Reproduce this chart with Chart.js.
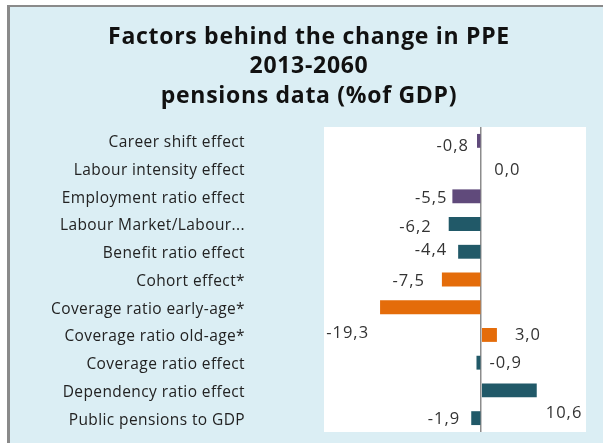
<!DOCTYPE html>
<html>
<head>
<meta charset="utf-8">
<script src="https://cdn.jsdelivr.net/npm/chart.js@4"></script>
<style>
  html, body { margin: 0; padding: 0; background: #fff; }
  #wrap { width: 603px; height: 443px; }
</style>
</head>
<body>
<div id="wrap"><canvas id="ppeChart" width="603" height="443"></canvas></div>
<script>
/* ------------------------------
   DATA
--------------------------------*/

const titleLines = ["Factors behind the change in PPE", "2013-2060", "pensions data (%of GDP)"];

const categories = [
    "Career shift effect",
    "Labour intensity effect",
    "Employment ratio effect",
    "Labour Market/Labour...",
    "Benefit ratio effect",
    "Cohort effect*",
    "Coverage ratio early-age*",
    "Coverage ratio old-age*",
    "Coverage ratio effect",
    "Dependency ratio effect",
    "Public pensions to GDP"
];

const values = [-0.8, 0.0, -5.5, -6.2, -4.4, -7.5, -19.3, 3.0, -0.9, 10.6, -1.9];

const valueLabels = ["-0,8", "0,0", "-5,5", "-6,2", "-4,4", "-7,5", "-19,3", "3,0", "-0,9", "10,6", "-1,9"];

const xMin = -30;
const xMax = 20;

/* ------------------------------
   STYLE
--------------------------------*/

const FONT = "'Open Sans', sans-serif";
const PURPLE = "#604a7b";
const TEAL = "#215968";
const ORANGE = "#e46c0a";

const barColors = [PURPLE, PURPLE, PURPLE, TEAL, TEAL, ORANGE, ORANGE, ORANGE, TEAL, TEAL, TEAL];

// where each value label sits, relative to the tip of its bar (Excel placed them oddly)
const labelAlign = ["right", "left", "right", "right", "right", "right", "right", "left", "left", "left", "right"];
const labelDx = [-8, 13, -5, -17, -11, -17, -11, 18, 13, 9, -11];
const labelDy = [5, 2, 2, 3, -1, 2, 26, 0, 1, 23, 1];

// category names sit this far left of the plot area
const categoryGap = 79;

/* ------------------------------
   PLUGINS
--------------------------------*/

const backdrop = {
    id: "backdrop",
    beforeDraw(chart) {
        const ctx = chart.ctx;
        const a = chart.chartArea;
        ctx.save();
        ctx.fillStyle = "#ffffff";
        ctx.fillRect(0, 0, chart.width, chart.height);
        ctx.fillStyle = "#dbeef4";
        ctx.fillRect(8, 6, chart.width - 8, chart.height - 6);
        ctx.fillStyle = "#8a8a8a";
        ctx.fillRect(7, 6, 3, chart.height - 6);
        ctx.fillRect(7, 5, chart.width - 7, 2);
        ctx.fillStyle = "#ffffff";
        ctx.fillRect(a.left, a.top, a.right - a.left, a.bottom - a.top);

        // title, three centred lines
        ctx.fillStyle = "#111111";
        ctx.font = "bold 23px " + FONT;
        ctx.letterSpacing = "0.7px";
        ctx.textAlign = "center";
        ctx.textBaseline = "middle";
        titleLines.forEach((line, i) => {
            ctx.fillText(line, 309, 37 + i * 29.5);
        });

        // category names, right aligned, from the y scale's tick positions
        const yScale = chart.scales.y;
        ctx.fillStyle = "#222222";
        ctx.font = "15.5px " + FONT;
        ctx.letterSpacing = "0.4px";
        ctx.textAlign = "right";
        categories.forEach((name, i) => {
            ctx.fillText(name, a.left - categoryGap, yScale.getPixelForTick(i) + 2);
        });
        ctx.restore();
    }
};

const valueLabelPlugin = {
    id: "valueLabels",
    afterDatasetsDraw(chart) {
        const ctx = chart.ctx;
        const bars = chart.getDatasetMeta(0).data;
        ctx.save();
        ctx.font = "16.5px " + FONT;
        ctx.letterSpacing = "1px";
        ctx.fillStyle = "#333333";
        ctx.textBaseline = "middle";
        bars.forEach((bar, i) => {
            ctx.textAlign = labelAlign[i];
            ctx.fillText(valueLabels[i], bar.x + labelDx[i], bar.y + labelDy[i]);
        });
        ctx.restore();
    }
};

/* ------------------------------
   CHART
--------------------------------*/

let ctx = document.getElementById("ppeChart");

let ppeChart = new Chart(ctx, {
    type: "bar",
    data: {
        labels: categories,
        datasets: [{
            data: values,
            backgroundColor: barColors,
            borderWidth: 0,
            categoryPercentage: 1.0,
            barPercentage: 0.5
        }]
    },
    options: {
        indexAxis: "y",
        responsive: false,
        maintainAspectRatio: false,
        animation: false,
        layout: { padding: { left: 324, right: 17, top: 127, bottom: 11 } },
        plugins: {
            legend: { display: false },
            tooltip: { enabled: false },
            title: { display: false }
        },
        scales: {
            x: {
                min: xMin,
                max: xMax,
                ticks: { display: false },
                border: { display: false },
                grid: {
                    drawTicks: false,
                    color: c => (c.tick && c.tick.value === 0) ? "#8c8c8c" : "rgba(0,0,0,0)",
                    lineWidth: 1.5
                }
            },
            y: {
                border: { display: false },
                grid: { display: false, drawTicks: false },
                ticks: { display: false }
            }
        }
    },
    plugins: [backdrop, valueLabelPlugin]
});
</script>
</body>
</html>
